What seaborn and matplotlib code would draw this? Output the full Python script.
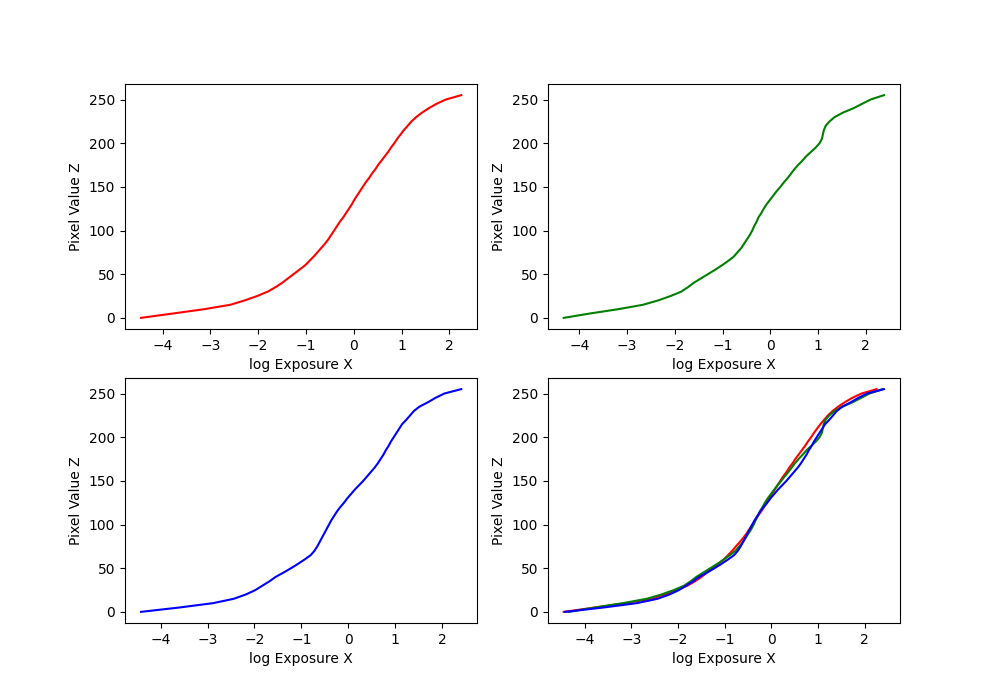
import matplotlib
matplotlib.use("Agg")
import matplotlib.pyplot as plt
import seaborn as sns

# pixel values (0..255 in steps of 5) and the log exposure
pixel_z = list(range(0, 256, 5))

red_x = [-4.45, -3.78, -3.12, -2.58, -2.28, -2.02, -1.80, -1.64, -1.50, -1.38,
         -1.26, -1.14, -1.02, -0.93, -0.84, -0.76, -0.68, -0.60, -0.53, -0.47,
         -0.41, -0.35, -0.29, -0.22, -0.16, -0.10, -0.04, 0.01, 0.07, 0.13,
         0.19, 0.25, 0.32, 0.38, 0.45, 0.51, 0.58, 0.65, 0.72, 0.78,
         0.85, 0.91, 0.98, 1.05, 1.13, 1.21, 1.31, 1.43, 1.57, 1.73,
         1.93, 2.25]

green_x = [-4.33, -3.78, -3.18, -2.67, -2.35, -2.09, -1.87, -1.73, -1.61, -1.46,
           -1.31, -1.16, -1.02, -0.89, -0.77, -0.69, -0.61, -0.55, -0.49, -0.43,
           -0.38, -0.34, -0.29, -0.25, -0.19, -0.14, -0.08, -0.01, 0.06, 0.13,
           0.21, 0.28, 0.36, 0.43, 0.50, 0.58, 0.67, 0.75, 0.85, 0.95,
           1.03, 1.08, 1.10, 1.12, 1.16, 1.24, 1.35, 1.52, 1.74, 1.92,
           2.10, 2.38]

blue_x = [-4.42, -3.60, -2.88, -2.44, -2.18, -1.98, -1.83, -1.68, -1.55, -1.38,
          -1.22, -1.07, -0.93, -0.80, -0.72, -0.66, -0.61, -0.56, -0.51, -0.46,
          -0.41, -0.36, -0.30, -0.24, -0.17, -0.09, -0.02, 0.06, 0.14, 0.23,
          0.32, 0.40, 0.48, 0.56, 0.63, 0.69, 0.75, 0.80, 0.86, 0.91,
          0.97, 1.03, 1.09, 1.15, 1.24, 1.32, 1.40, 1.52, 1.70, 1.86,
          2.05, 2.41]

channels = [(red_x, "red"), (green_x, "green"), (blue_x, "blue")]

fig, axes = plt.subplots(2, 2, figsize=(10, 7))
axes = axes.ravel()

for ax, (xs, col) in zip(axes[:3], channels):
    sns.lineplot(x=xs, y=pixel_z, color=col, estimator=None, sort=False, ax=ax)

# all three curves together
for xs, col in channels:
    sns.lineplot(x=xs, y=pixel_z, color=col, estimator=None, sort=False, ax=axes[3])

for ax in axes:
    ax.set_xlabel("log Exposure X")
    ax.set_ylabel("Pixel Value Z")

plt.savefig("out.png", dpi=100)
